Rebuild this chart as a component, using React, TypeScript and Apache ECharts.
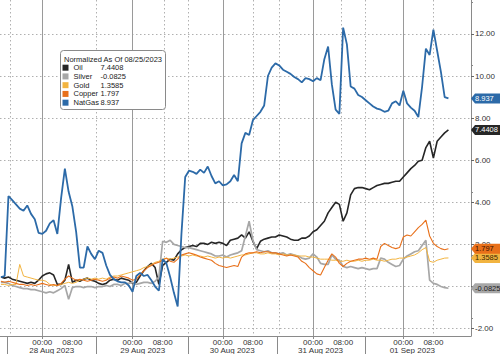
import React, { useEffect, useRef } from 'react';
import * as echarts from 'echarts';

// hours since 28 Aug 2023 00:00 (one sample per hour)
const HOURS = [
  -11, -10, -9, -8, -7, -6, -5, -4, -3, -2,
  -1, 0, 1, 2, 3, 4, 5, 6, 7, 8,
  9, 10, 11, 12, 13, 14, 15, 16, 17, 18,
  19, 20, 21, 22, 23, 24, 25, 26, 27, 28,
  29, 30, 31, 32, 33, 34, 35, 36, 37, 38,
  39, 40, 41, 42, 43, 44, 45, 46, 47, 48,
  49, 50, 51, 52, 53, 54, 55, 56, 57, 58,
  59, 60, 61, 62, 63, 64, 65, 66, 67, 68,
  69, 70, 71, 72, 73, 74, 75, 76, 77, 78,
  79, 80, 81, 82, 83, 84, 85, 86, 87, 88,
  89, 90, 91, 92, 93, 94, 95, 96, 97, 98,
  99, 100, 101, 102, 103, 104, 105, 106, 107, 108,
];

const OIL = [
  0.45, 0.4, 0.45, 0.35, 0.3, 0.25, 0.2, 0.15, 0.2, 0.15,
  0.3, 0.5, 0.6, 0.65, 0.55, 0.1, 0.1, 0.3, 1.05, 0.2,
  0.3, 0.25, 0.35, 0.4, 0.3, 0.25, 0.15, 0.1, 0.15, 0.3,
  0.35, 0.3, 0.4, 0.35, 0.3, 0.15, 0.2, 0.5, 0.75, 0.95,
  1.1, 0.9, 0.1, 1.0, 1.15, 1.3, 1.25, 1.55, 1.75, 1.85,
  1.9, 1.95, 1.9, 2.05, 2.05, 2.0, 2.1, 2.05, 2.1, 2.05,
  1.95, 2.2, 2.25, 2.3, 2.45, 2.3, 2.6, 2.15, 1.8, 2.15,
  2.25, 2.3, 2.35, 2.35, 2.45, 2.4, 2.35, 2.25, 2.2, 2.2,
  2.3, 2.3, 2.4, 2.6, 2.7, 2.9, 3.1, 3.5, 3.75, 4.0,
  3.9, 3.1, 3.5, 4.35, 4.65, 4.7, 4.7, 4.65, 4.6, 4.7,
  4.8, 4.85, 4.9, 4.9, 4.95, 5.0, 5.0, 5.2, 5.4, 5.6,
  5.75, 5.95, 6.0, 6.6, 6.9, 6.1, 6.9, 7.1, 7.3, 7.4408,
];

const SILVER = [
  0.2, 0.2, 0.15, 0.05, 0.0, -0.05, -0.1, -0.1, -0.15, -0.15,
  -0.2, -0.25, -0.3, -0.25, -0.3, -0.2, -0.1, 0.05, -0.6, -0.05,
  0.0, 0.0, -0.05, 0.0, 0.0, -0.05, 0.0, 0.0, 0.05, 0.0,
  0.1, 0.1, 0.05, 0.15, 0.15, 0.2, 0.1, 0.15, 0.2, 0.2,
  0.15, 0.25, 0.45, 2.15, 2.1, 2.2, 2.0, 1.95, 1.9, 1.85,
  1.85, 1.8, 1.75, 1.7, 1.65, 1.6, 1.55, 1.45, 1.45, 1.5,
  1.4, 1.5, 1.55, 1.6, 1.7, 2.4, 3.1, 2.2, 1.75, 1.7,
  1.65, 1.7, 1.6, 1.6, 1.55, 1.6, 1.5, 1.55, 1.5, 1.45,
  1.35, 1.3, 1.35, 1.55, 1.4, 1.1, 1.05, 1.05, 1.5, 1.3,
  1.25, 0.95, 0.9, 0.95, 0.9, 0.85, 0.9, 0.85, 0.8, 0.85,
  0.85, 1.35, 1.3, 1.15, 1.05, 0.95, 1.0, 1.3, 1.45, 1.55,
  1.65, 1.7, 1.95, 2.2, 0.3, 0.15, 0.1, 0.0, -0.05, -0.0825,
];

const GOLD = [
  0.1, 0.1, 0.05, 0.1, 0.1, 1.05, 0.5, 0.45, 0.4, 0.35,
  0.3, 0.3, 0.25, 0.1, 0.05, 0.05, 0.1, 0.15, 0.2, 0.15,
  0.2, 0.3, 0.35, 0.4, 0.35, 0.4, 0.35, 0.4, 0.35, 0.45,
  0.5, 0.5, 0.55, 0.6, 0.65, 0.7, 0.75, 0.8, 0.9, 0.95,
  1.05, 1.15, 1.2, 1.3, 1.35, 1.3, 1.35, 1.4, 1.45, 1.5,
  1.45, 1.5, 1.45, 1.45, 1.4, 1.45, 1.4, 1.35, 1.4, 1.35,
  1.4, 1.35, 1.4, 1.45, 1.5, 1.5, 1.55, 1.6, 1.6, 1.55,
  1.55, 1.6, 1.55, 1.55, 1.5, 1.55, 1.5, 1.5, 1.5, 1.45,
  1.45, 1.45, 1.4, 1.4, 1.35, 1.3, 1.3, 1.3, 1.25, 1.25,
  1.2, 1.2, 1.25, 1.2, 1.2, 1.25, 1.2, 1.25, 1.25, 1.3,
  1.25, 1.25, 1.2, 1.25, 1.3, 1.3, 1.35, 1.35, 1.4, 1.45,
  1.5, 1.6, 1.75, 1.85, 1.2, 1.15, 1.25, 1.3, 1.35, 1.3585,
];

const COPPER = [
  0.25, 0.2, 0.25, 0.2, 0.15, 0.1, 0.1, 0.05, 0.1, 0.05,
  0.1, 0.15, 0.1, 0.05, 0.1, 0.05, 0.15, 0.35, 0.5, 0.4,
  0.3, 0.35, 0.3, 0.25, 0.3, 0.35, 0.3, 0.25, 0.3, 0.4,
  0.45, 0.4, 0.5, 0.45, 0.4, 0.3, 0.35, 0.55, 0.75, 0.9,
  1.0, 1.1, 1.15, 1.25, 1.35, 1.2, 1.15, 1.3, 1.5, 1.55,
  1.6, 1.55, 1.5, 1.4, 1.35, 1.3, 1.25, 1.1, 1.0, 0.95,
  0.9, 0.95, 1.0, 0.95, 1.4, 1.55, 1.6, 1.6, 1.65, 1.6,
  1.65, 1.65, 1.6, 1.6, 1.55, 1.5, 1.45, 1.5, 1.45, 1.4,
  1.2, 1.1, 0.9, 0.75, 0.6, 0.55, 0.9, 1.25, 1.55, 1.4,
  1.1, 0.95, 1.1, 1.2, 1.25, 1.3, 1.3, 1.35, 1.3, 1.35,
  1.3, 1.9, 2.05, 1.95, 1.85, 1.8, 1.85, 2.35, 2.45, 2.4,
  2.6, 2.8, 2.95, 3.15, 2.4, 2.05, 1.9, 1.8, 1.75, 1.797,
];

const NATGAS = [
  0.45, 0.5, 4.3, 4.1, 3.9, 3.7, 3.6, 3.85, 3.45, 3.2,
  2.55, 2.5, 2.65, 3.0, 3.15, 2.5, 4.2, 5.6, 4.5, 3.8,
  2.6, 0.9, 0.9, 1.9, 1.55, 1.3, 1.7, 1.6, 1.0, 0.55,
  0.35, 0.25, 0.2, 0.2, 0.05, -0.25, 0.5, 0.65, 0.5, 0.55,
  0.3, 0.0, -0.2, 1.3, 1.1, 0.45, -0.3, -0.95, 2.5, 5.2,
  5.5, 5.45, 5.35, 5.55, 5.4, 5.7, 5.25, 4.9, 5.0, 4.8,
  4.85, 5.0, 5.3, 5.0, 6.8, 7.3, 7.2, 7.9, 8.1, 8.3,
  8.6, 10.0, 10.4, 10.6, 10.5, 10.3, 10.2, 10.1, 9.95, 9.85,
  9.7, 9.9, 9.85, 9.75, 9.9, 9.8, 10.8, 11.4, 9.6, 8.4,
  8.2, 12.3, 11.5, 9.5, 9.4, 9.1, 9.0, 8.85, 8.7, 8.55,
  8.45, 8.4, 8.3, 8.35, 8.7, 8.8, 8.6, 9.3, 8.7, 8.5,
  8.35, 8.05, 9.5, 11.3, 11.0, 12.2, 11.2, 10.2, 9.0, 8.937,
];

const SERIES_NAMES = ['Oil', 'Silver', 'Gold', 'Copper', 'NatGas'];
const SERIES_VALUES = [OIL, SILVER, GOLD, COPPER, NATGAS];
const LEGEND_TITLE = 'Normalized As Of 08/25/2023';

const Y_TICKS = [-2, 0, 2, 4, 6, 8, 10, 12];
const Y_LABELS = [-2, 2, 4, 6, 8, 10, 12];
const TIME_TICKS = [0, 24, 48, 72, 96];
const TIME_LABELS = [0, 8, 24, 32, 48, 56, 72, 80, 96, 104];
const DATE_LABEL_HOURS = [2.5, 26.7, 50.5, 74, 98.4];
const DATE_LABELS = ['28 Aug 2023', '29 Aug 2023', '30 Aug 2023', '31 Aug 2023', '01 Sep 2023'];
const SESSION_HOURS = [-9.2, 14.3, 38.7, 62.4, 85.8];
const DOTTED_HOURS = [-8.6, 14.3, 32.5, 38.7, 56, 63, 79.6, 85.8, 104];

const X_MIN = -11.25;
const X_MAX = 114;
const Y_MIN = -2.35;
const Y_MAX = 13.61;

const COLORS = ['#262626', '#a7a7a7', '#f2b440', '#e8701a', '#2c6aa8'];
const TAG_TEXT = ['#ffffff', '#222222', '#3a2600', '#3a1000', '#ffffff'];
const WIDTHS = [1.6, 1.7, 1, 1.1, 1.8];
const FONT = 'Liberation Sans';
const TAG = 'path://M0,5L4,0L32,0L32,10L4,10Z';

export default function App() {
  const ref = useRef<HTMLDivElement>(null);
  useEffect(() => {
    if (!ref.current) return;
    const chart = echarts.init(ref.current, undefined, { renderer: 'svg' });
    const last: Record<string, number> = {};
    SERIES_NAMES.forEach((n, i) => {
      last[n] = SERIES_VALUES[i][SERIES_VALUES[i].length - 1];
    });
    const series: any[] = SERIES_NAMES.map((name, i) => ({
      type: 'line',
      name,
      xAxisIndex: 0,
      data: HOURS.map((h, j) => [h, SERIES_VALUES[i][j]]),
      showSymbol: false,
      symbol: 'none',
      lineStyle: { width: WIDTHS[i], color: COLORS[i] },
      itemStyle: { color: COLORS[i] },
      markPoint: {
        silent: true,
        symbol: TAG,
        symbolSize: [32, 10],
        symbolOffset: [16, 0],
        itemStyle: { color: COLORS[i] },
        label: {
          show: true,
          position: 'insideLeft',
          distance: 4,
          formatter: String(last[name]),
          color: TAG_TEXT[i],
          fontSize: 7.5,
          fontFamily: FONT,
        },
        data: [{ coord: [X_MAX, last[name]], value: last[name] }],
      },
    }));
    const labelStyle = { fontSize: 8, color: '#333', fontFamily: FONT };
    chart.setOption({
      animation: false,
      grid: { left: 0, right: 29, top: 0, bottom: 18, containLabel: false },
      xAxis: [
        {
          type: 'value',
          min: X_MIN,
          max: X_MAX,
          position: 'bottom',
          axisLine: { show: true, onZero: false, lineStyle: { color: '#8a8a8a', width: 1 } },
          axisTick: { show: true, customValues: TIME_TICKS, length: 3, lineStyle: { color: '#8a8a8a' } },
          splitLine: { show: true, lineStyle: { color: '#9a9a9a', width: 1, type: 'solid' } },
          axisLabel: {
            ...labelStyle,
            customValues: TIME_LABELS,
            margin: 2,
            formatter: (v: number) => `${String(((v % 24) + 24) % 24).padStart(2, '0')}:00`,
          },
        },
        {
          type: 'value',
          min: X_MIN,
          max: X_MAX,
          position: 'bottom',
          axisLine: { show: false, onZero: false },
          splitLine: { show: false },
          axisTick: { show: true, customValues: SESSION_HOURS, length: 18, lineStyle: { color: '#8a8a8a' } },
          axisLabel: {
            ...labelStyle,
            customValues: DATE_LABEL_HOURS,
            margin: 10,
            formatter: (v: number) => DATE_LABELS[DATE_LABEL_HOURS.indexOf(v)] ?? '',
          },
        },
        {
          type: 'value',
          min: X_MIN,
          max: X_MAX,
          position: 'top',
          axisLine: { show: false, onZero: false },
          axisTick: { show: false, customValues: DOTTED_HOURS },
          axisLabel: { show: false },
          splitLine: { show: true, lineStyle: { color: '#b0b0b0', type: [1.5, 2.5], width: 1 } },
        },
      ],
      yAxis: {
        type: 'value',
        position: 'right',
        min: Y_MIN,
        max: Y_MAX,
        axisLine: { show: true, onZero: false, lineStyle: { color: '#8a8a8a', width: 1 } },
        axisTick: { show: true, customValues: Y_TICKS, length: 3, lineStyle: { color: '#666' } },
        minorTick: { show: true, splitNumber: 2, length: 2, lineStyle: { color: '#888' } },
        splitLine: { show: true, lineStyle: { color: '#b0b0b0', type: [1.5, 2.5], width: 1 } },
        axisLabel: {
          ...labelStyle,
          customValues: Y_LABELS,
          margin: 4,
          formatter: (v: number) => v.toFixed(2),
        },
      },
      legend: {
        data: SERIES_NAMES,
        orient: 'vertical',
        left: 62.5,
        top: 63.3,
        padding: 0,
        itemWidth: 6,
        itemHeight: 6,
        itemGap: 0,
        icon: 'rect',
        selectedMode: false,
        formatter: (name: string) => `{n|${name}}{v|${last[name]}}`,
        textStyle: {
          fontSize: 7.5,
          color: '#222',
          fontFamily: FONT,
          lineHeight: 8.75,
          rich: {
            n: { width: 27, fontSize: 7.5, fontFamily: FONT, color: '#222', lineHeight: 8.75 },
            v: { fontSize: 7.5, fontFamily: FONT, color: '#222', lineHeight: 8.75 },
          },
        },
      },
      graphic: [
        {
          type: 'rect',
          z: 3,
          shape: { x: 60.5, y: 50.5, width: 105, height: 59, r: 3 },
          style: { fill: '#ffffff', stroke: '#8a8a8a', lineWidth: 1 },
        },
        {
          type: 'text',
          z: 5,
          x: 64,
          y: 55,
          style: { text: LEGEND_TITLE, fontSize: 7.5, fill: '#222', fontFamily: FONT },
        },
      ],
      series,
    });
    return () => chart.dispose();
  }, []);
  return (
    <div
      ref={ref}
      style={{ position: 'fixed', left: 0, top: 0, width: 500, height: 354, background: '#fff' }}
    />
  );
}
